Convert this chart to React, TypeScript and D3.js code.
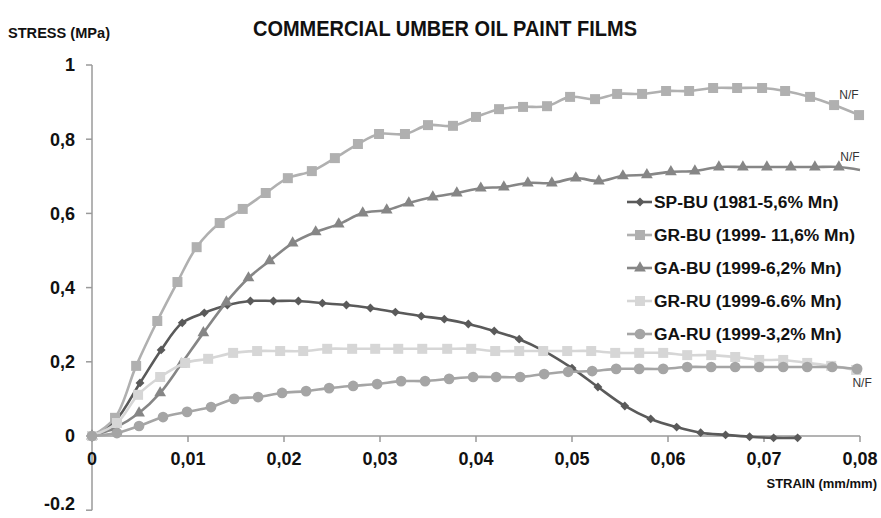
import * as d3 from 'd3';

type Pt = [number, number];

// strain (mm/mm), stress (MPa)
const spBu: Pt[] = [
  [0, 0], [0.0024, 0.04], [0.005, 0.143], [0.0072, 0.232], [0.0094, 0.305], [0.0117, 0.332],
  [0.0141, 0.353], [0.0165, 0.364], [0.0189, 0.364], [0.0215, 0.364], [0.024, 0.358], [0.0265, 0.353],
  [0.029, 0.345], [0.0316, 0.334], [0.0343, 0.323], [0.0367, 0.315], [0.0392, 0.302], [0.0419, 0.283],
  [0.0445, 0.261], [0.0471, 0.229], [0.05, 0.183], [0.0527, 0.132], [0.0555, 0.081], [0.0582, 0.046],
  [0.0609, 0.024], [0.0634, 0.009], [0.066, 0.003], [0.0685, -0.002], [0.071, -0.005], [0.0735, -0.005],
];
const grBu: Pt[] = [
  [0, 0], [0.0024, 0.049], [0.0046, 0.189], [0.0068, 0.31], [0.0089, 0.415], [0.0109, 0.509],
  [0.0133, 0.574], [0.0157, 0.612], [0.0181, 0.655], [0.0204, 0.695], [0.0229, 0.714], [0.0253, 0.749],
  [0.0277, 0.787], [0.0299, 0.814], [0.0326, 0.814], [0.035, 0.838], [0.0376, 0.836], [0.04, 0.86],
  [0.0424, 0.881], [0.0449, 0.887], [0.0474, 0.889], [0.0498, 0.914], [0.0524, 0.908], [0.0547, 0.922],
  [0.0573, 0.922], [0.0598, 0.93], [0.0622, 0.93], [0.0647, 0.938], [0.0672, 0.938], [0.0698, 0.938],
  [0.0722, 0.93], [0.0748, 0.914], [0.0773, 0.892], [0.0799, 0.865],
];
const gaBu: Pt[] = [
  [0, 0], [0.0024, 0.022], [0.0049, 0.062], [0.0071, 0.116], [0.0093, 0.194], [0.0116, 0.278],
  [0.014, 0.361], [0.0163, 0.426], [0.0185, 0.472], [0.0209, 0.52], [0.0233, 0.55], [0.0257, 0.571],
  [0.0282, 0.601], [0.0307, 0.609], [0.033, 0.628], [0.0355, 0.644], [0.038, 0.655], [0.0405, 0.668],
  [0.0429, 0.671], [0.0454, 0.682], [0.0479, 0.682], [0.0504, 0.695], [0.0528, 0.687], [0.0553, 0.701],
  [0.0578, 0.704], [0.0603, 0.712], [0.0628, 0.714], [0.0653, 0.725], [0.0678, 0.725], [0.0703, 0.725],
  [0.0728, 0.725], [0.0753, 0.725], [0.0778, 0.725], [0.08, 0.717],
];
const grRu: Pt[] = [
  [0, 0], [0.0026, 0.035], [0.0048, 0.111], [0.0071, 0.159], [0.0097, 0.197], [0.0121, 0.208],
  [0.0147, 0.224], [0.0172, 0.229], [0.0196, 0.229], [0.022, 0.229], [0.0245, 0.235], [0.0271, 0.235],
  [0.0295, 0.235], [0.0319, 0.235], [0.0344, 0.235], [0.037, 0.235], [0.0395, 0.235], [0.042, 0.229],
  [0.0445, 0.229], [0.047, 0.229], [0.0495, 0.229], [0.052, 0.229], [0.0545, 0.224], [0.057, 0.224],
  [0.0595, 0.224], [0.062, 0.218], [0.0645, 0.218], [0.067, 0.213], [0.0695, 0.205], [0.072, 0.205],
  [0.0745, 0.197], [0.077, 0.189], [0.0796, 0.178],
];
const gaRu: Pt[] = [
  [0, 0], [0.0026, 0.008], [0.0049, 0.027], [0.0074, 0.051], [0.0099, 0.065], [0.0124, 0.078],
  [0.0148, 0.1], [0.0173, 0.105], [0.0198, 0.116], [0.0223, 0.121], [0.0247, 0.129], [0.0272, 0.135],
  [0.0297, 0.14], [0.0322, 0.148], [0.0347, 0.148], [0.0372, 0.154], [0.0397, 0.159], [0.0421, 0.159],
  [0.0446, 0.159], [0.0471, 0.167], [0.0496, 0.173], [0.0521, 0.175], [0.0546, 0.181], [0.057, 0.181],
  [0.0595, 0.181], [0.062, 0.186], [0.0645, 0.186], [0.067, 0.186], [0.0695, 0.186], [0.072, 0.186],
  [0.0745, 0.186], [0.0771, 0.186], [0.0797, 0.181],
];

const seriesNames = [
  'SP-BU (1981-5,6% Mn)',
  'GR-BU (1999- 11,6% Mn)',
  'GA-BU (1999-6,2% Mn)',
  'GR-RU (1999-6.6% Mn)',
  'GA-RU (1999-3,2% Mn)',
];

const xTicks = [0, 0.01, 0.02, 0.03, 0.04, 0.05, 0.06, 0.07, 0.08];
const xTickLabels = ['0', '0,01', '0,02', '0,03', '0,04', '0,05', '0,06', '0,07', '0,08'];
const yTicks = [1, 0.8, 0.6, 0.4, 0.2, 0, -0.2];
const yTickLabels = ['1', '0,8', '0,6', '0,4', '0,2', '0', '-0.2'];

// "N/F" notes: [strain, stress] of the series end they belong to
const nfNotes: Pt[] = [[0.0799, 0.865], [0.08, 0.717], [0.0797, 0.181]];

const W = 881;
const H = 518;

const x = d3.scaleLinear([0, 0.08], [92, 860]);
const y = d3.scaleLinear([0, 1], [436, 65]);

const series = [
  { data: spBu, color: '#5a5a5a', symbol: d3.symbolDiamond2, size: 50, markLast: true },
  { data: grBu, color: '#b0b0b0', symbol: d3.symbolSquare, size: 100, markLast: true },
  { data: gaBu, color: '#868686', symbol: d3.symbolTriangle, size: 60, markLast: false },
  { data: grRu, color: '#d6d6d6', symbol: d3.symbolSquare, size: 100, markLast: true },
  { data: gaRu, color: '#a5a5a5', symbol: d3.symbolCircle, size: 90, markLast: true },
];

const line = d3.line<Pt>().x(d => x(d[0])).y(d => y(d[1])).curve(d3.curveCatmullRom.alpha(0.5));

const narrow = '"Liberation Sans Narrow", "Arial Narrow", "Liberation Sans", Arial, sans-serif';
const sans = '"Liberation Sans", Arial, sans-serif';

export default function App() {
  const axisColor = '#9a9a9a';
  return (
    <svg width={W} height={H} style={{ position: 'absolute', left: 0, top: 0, background: '#fff' }}>
      {/* titles */}
      <text x={445} y={36} textAnchor="middle" fontFamily={narrow} fontWeight="bold" fontSize={22}
        textLength={384} lengthAdjust="spacingAndGlyphs" fill="#111">COMMERCIAL UMBER OIL PAINT FILMS</text>
      <text x={8} y={38} fontFamily={narrow} fontWeight="bold" fontSize={14}
        textLength={102} lengthAdjust="spacingAndGlyphs" fill="#111">STRESS (MPa)</text>
      <text x={877} y={488} textAnchor="end" fontFamily={narrow} fontWeight="bold" fontSize={13}
        fill="#111">STRAIN (mm/mm)</text>

      {/* y axis */}
      <line x1={x(0)} x2={x(0)} y1={y(1)} y2={y(-0.2)} stroke={axisColor} strokeWidth={1.5} />
      {yTicks.map((t, i) => (
        <g key={'y' + i}>
          <line x1={x(0) - 6} x2={x(0)} y1={y(t)} y2={y(t)} stroke={axisColor} strokeWidth={1.5} />
          <text x={75} y={Math.min(y(t), 504)} dy="0.36em" textAnchor="end" fontFamily={sans} fontWeight="bold"
            fontSize={18} fill="#111">{yTickLabels[i]}</text>
        </g>
      ))}

      {/* x axis */}
      <line x1={x(0)} x2={x(0.08)} y1={y(0)} y2={y(0)} stroke={axisColor} strokeWidth={1.5} />
      {xTicks.map((t, i) => (
        <g key={'x' + i}>
          <line x1={x(t)} x2={x(t)} y1={y(0)} y2={y(0) + 6} stroke={axisColor} strokeWidth={1.5} />
          <text x={x(t)} y={465} textAnchor="middle" fontFamily={sans} fontWeight="bold"
            fontSize={18} fill="#111">{xTickLabels[i]}</text>
        </g>
      ))}

      {/* series */}
      {series.map((s, i) => (
        <g key={'s' + i}>
          <path d={line(s.data) ?? ''} fill="none" stroke={s.color} strokeWidth={2.6} />
          {s.data.filter((_, j) => s.markLast || j < s.data.length - 1).map((d, j) => (
            <path key={j} d={d3.symbol(s.symbol, s.size)() ?? ''}
              transform={`translate(${x(d[0])},${y(d[1])})`} fill={s.color} />
          ))}
        </g>
      ))}

      {/* N/F notes */}
      {nfNotes.map((d, i) => (
        <text key={'nf' + i} x={i === 2 ? x(d[0]) + 5 : x(d[0]) - 10} y={i === 2 ? y(d[1]) + 18 : y(d[1]) - (i === 0 ? 16 : 9)}
          textAnchor="middle" fontFamily={sans} fontSize={12} fill="#333">N/F</text>
      ))}

      {/* legend */}
      {series.map((s, i) => {
        const ly = 202 + i * 33;
        return (
          <g key={'l' + i}>
            <line x1={627} x2={652} y1={ly} y2={ly} stroke={s.color} strokeWidth={2.6} />
            <path d={d3.symbol(s.symbol, s.size)() ?? ''} transform={`translate(640,${ly})`} fill={s.color} />
            <text x={654} y={ly} dy="0.36em" fontFamily={sans} fontWeight="bold" fontSize={17.4}
              fill="#111">{seriesNames[i]}</text>
          </g>
        );
      })}
    </svg>
  );
}
